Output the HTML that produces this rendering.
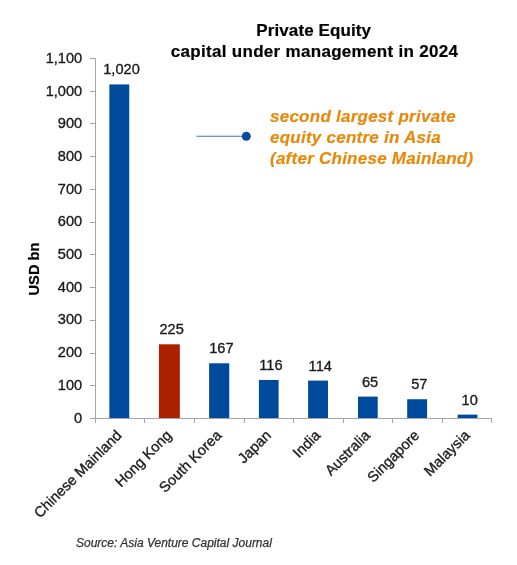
<!DOCTYPE html>
<html><head><meta charset="utf-8"><style>
html,body{margin:0;padding:0;background:#fff;width:517px;height:565px;overflow:hidden}
svg{display:block;filter:blur(0.35px)}
text{font-family:"Liberation Sans",sans-serif}
.yl,.vl,.cl{fill:#1a1a1a;stroke:#1a1a1a;stroke-width:0.35px}
.yl{font-size:14.6px}
.vl{font-size:14.6px}
.cl{font-size:14.6px}
.t{font-size:17px;font-weight:bold;fill:#000;stroke:#000;stroke-width:0.2px}
.an{font-size:17px;font-weight:bold;font-style:italic;fill:#e8890c;stroke:#e8890c;stroke-width:0.2px}
.src{font-size:12px;font-style:italic;fill:#333;stroke:#333;stroke-width:0.25px}
.ua{font-size:14.7px;font-weight:bold;fill:#000;stroke:#000;stroke-width:0.2px}
</style></head><body>
<svg width="517" height="565" viewBox="0 0 517 565">
<text x="313.7" y="36.1" text-anchor="middle" class="t" style="letter-spacing:0.1px">Private Equity</text>
<text x="314.5" y="56.5" text-anchor="middle" class="t" style="letter-spacing:0.3px">capital under management in 2024</text>
<line x1="196.5" y1="136.2" x2="246" y2="136.2" stroke="#3f72bf" stroke-width="1.1"/>
<circle cx="246.3" cy="136.2" r="4.5" fill="#0a4a9e"/>
<text x="270" y="122.3" class="an" style="letter-spacing:0.25px">second largest private</text>
<text x="270" y="142.6" class="an" style="letter-spacing:0.25px">equity centre in Asia</text>
<text x="270" y="164" class="an" style="letter-spacing:0.25px">(after Chinese Mainland)</text>
<text transform="translate(38.9,269) rotate(-90)" text-anchor="middle" class="ua">USD bn</text>
<rect x="95" y="58" width="1" height="361" fill="#a6a6a6"/>
<rect x="90" y="418" width="5" height="1" fill="#a6a6a6"/>
<text x="82.2" y="422.50" text-anchor="end" class="yl">0</text>
<rect x="90" y="385" width="5" height="1" fill="#a6a6a6"/>
<text x="82.2" y="389.82" text-anchor="end" class="yl">100</text>
<rect x="90" y="353" width="5" height="1" fill="#a6a6a6"/>
<text x="82.2" y="357.15" text-anchor="end" class="yl">200</text>
<rect x="90" y="320" width="5" height="1" fill="#a6a6a6"/>
<text x="82.2" y="324.48" text-anchor="end" class="yl">300</text>
<rect x="90" y="287" width="5" height="1" fill="#a6a6a6"/>
<text x="82.2" y="291.80" text-anchor="end" class="yl">400</text>
<rect x="90" y="254" width="5" height="1" fill="#a6a6a6"/>
<text x="82.2" y="259.12" text-anchor="end" class="yl">500</text>
<rect x="90" y="222" width="5" height="1" fill="#a6a6a6"/>
<text x="82.2" y="226.45" text-anchor="end" class="yl">600</text>
<rect x="90" y="189" width="5" height="1" fill="#a6a6a6"/>
<text x="82.2" y="193.78" text-anchor="end" class="yl">700</text>
<rect x="90" y="156" width="5" height="1" fill="#a6a6a6"/>
<text x="82.2" y="161.10" text-anchor="end" class="yl">800</text>
<rect x="90" y="123" width="5" height="1" fill="#a6a6a6"/>
<text x="82.2" y="128.43" text-anchor="end" class="yl">900</text>
<rect x="90" y="91" width="5" height="1" fill="#a6a6a6"/>
<text x="82.2" y="95.75" text-anchor="end" class="yl">1,000</text>
<rect x="90" y="58" width="5" height="1" fill="#a6a6a6"/>
<text x="82.2" y="63.08" text-anchor="end" class="yl">1,100</text>
<rect x="90" y="418" width="402" height="1" fill="#a6a6a6"/>
<rect x="95" y="418" width="1" height="5" fill="#a6a6a6"/>
<rect x="144" y="418" width="1" height="5" fill="#a6a6a6"/>
<rect x="194" y="418" width="1" height="5" fill="#a6a6a6"/>
<rect x="244" y="418" width="1" height="5" fill="#a6a6a6"/>
<rect x="293" y="418" width="1" height="5" fill="#a6a6a6"/>
<rect x="343" y="418" width="1" height="5" fill="#a6a6a6"/>
<rect x="392" y="418" width="1" height="5" fill="#a6a6a6"/>
<rect x="442" y="418" width="1" height="5" fill="#a6a6a6"/>
<rect x="491" y="418" width="1" height="5" fill="#a6a6a6"/>
<rect x="109.35" y="84.43" width="19.91" height="333.57" fill="#004a9e"/>
<text x="121.50" y="74.43" text-anchor="middle" class="vl">1,020</text>
<text transform="translate(122.50,436.2) rotate(-45)" text-anchor="end" class="cl">Chinese Mainland</text>
<rect x="158.95" y="344.32" width="20.89" height="73.68" fill="#ab2100"/>
<text x="171.59" y="334.32" text-anchor="middle" class="vl">225</text>
<text transform="translate(172.59,436.2) rotate(-45)" text-anchor="end" class="cl">Hong Kong</text>
<rect x="209.13" y="363.28" width="20.12" height="54.72" fill="#004a9e"/>
<text x="221.39" y="353.28" text-anchor="middle" class="vl">167</text>
<text transform="translate(222.39,436.2) rotate(-45)" text-anchor="end" class="cl">South Korea</text>
<rect x="258.90" y="379.95" width="19.70" height="38.05" fill="#004a9e"/>
<text x="270.95" y="369.95" text-anchor="middle" class="vl">116</text>
<text transform="translate(271.95,436.2) rotate(-45)" text-anchor="end" class="cl">Japan</text>
<rect x="308.10" y="380.60" width="19.90" height="37.40" fill="#004a9e"/>
<text x="320.25" y="370.60" text-anchor="middle" class="vl">114</text>
<text transform="translate(321.25,436.2) rotate(-45)" text-anchor="end" class="cl">India</text>
<rect x="358.00" y="396.62" width="19.70" height="21.38" fill="#004a9e"/>
<text x="370.05" y="386.62" text-anchor="middle" class="vl">65</text>
<text transform="translate(371.05,436.2) rotate(-45)" text-anchor="end" class="cl">Australia</text>
<rect x="407.20" y="399.24" width="19.90" height="18.76" fill="#004a9e"/>
<text x="419.35" y="389.24" text-anchor="middle" class="vl">57</text>
<text transform="translate(420.35,436.2) rotate(-45)" text-anchor="end" class="cl">Singapore</text>
<rect x="457.66" y="414.60" width="19.74" height="3.40" fill="#004a9e"/>
<text x="469.73" y="404.60" text-anchor="middle" class="vl">10</text>
<text transform="translate(470.73,436.2) rotate(-45)" text-anchor="end" class="cl">Malaysia</text>
<text x="76" y="546.5" class="src">Source: Asia Venture Capital Journal</text>
</svg>
</body></html>
